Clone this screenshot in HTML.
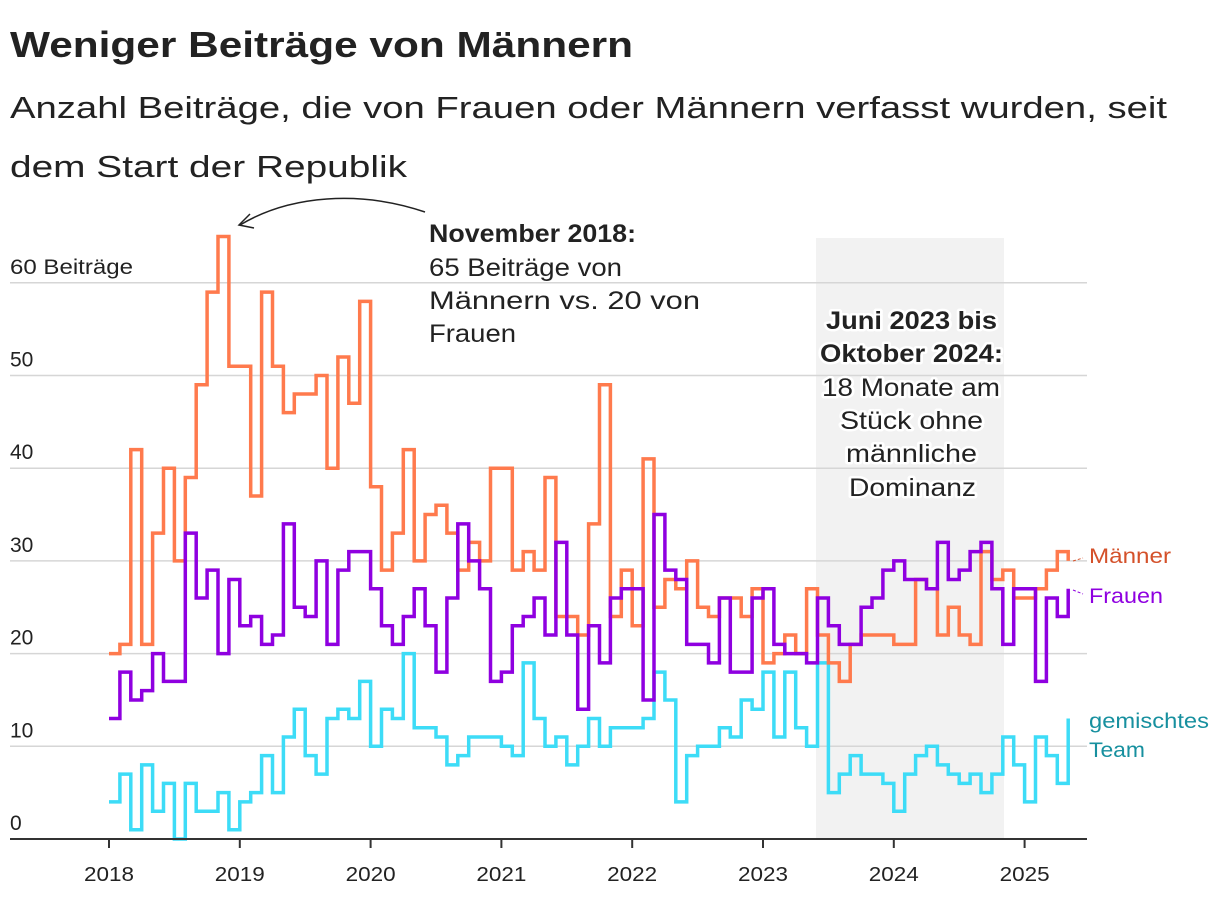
<!DOCTYPE html>
<html><head><meta charset="utf-8">
<style>
html,body{margin:0;padding:0;background:#fff;}
body{width:1220px;height:898px;overflow:hidden;font-family:"Liberation Sans",sans-serif;color:#222;}
svg text{font-family:"Liberation Sans",sans-serif;}
</style></head>
<body>
<svg width="1220" height="898" viewBox="0 0 1220 898">
<text x="10" y="57" font-size="36" font-weight="bold" fill="#222" textLength="623" lengthAdjust="spacingAndGlyphs">Weniger Beiträge von Männern</text>
<text x="10" y="118" font-size="31" fill="#222" textLength="1157" lengthAdjust="spacingAndGlyphs">Anzahl Beiträge, die von Frauen oder Männern verfasst wurden, seit</text>
<text x="10" y="177" font-size="31" fill="#222" textLength="397" lengthAdjust="spacingAndGlyphs">dem Start der Republik</text>
<rect x="816" y="238" width="188" height="601" fill="#f2f2f2"/>
<g id="grid"></g>
<g id="series"></g>
<g id="xaxis"></g>
<path d="M425,212 C360,190 290,195 240,225" fill="none" stroke="#222" stroke-width="1.5"/>
<path d="M250,214 L239,225 L254,228" fill="none" stroke="#222" stroke-width="1.5"/>
<g font-size="25" fill="#222">
<text x="429" y="242" font-weight="bold" textLength="207" lengthAdjust="spacingAndGlyphs">November 2018:</text>
<text x="429" y="276" textLength="193" lengthAdjust="spacingAndGlyphs">65 Beiträge von</text>
<text x="429" y="309" textLength="271" lengthAdjust="spacingAndGlyphs">Männern vs. 20 von</text>
<text x="429" y="342" textLength="87" lengthAdjust="spacingAndGlyphs">Frauen</text>
</g>
<g font-size="25" fill="#222" stroke="#fff" stroke-width="5" paint-order="stroke" stroke-linejoin="round">
<text x="826" y="329" font-weight="bold" textLength="171" lengthAdjust="spacingAndGlyphs">Juni 2023 bis</text>
<text x="820" y="362" font-weight="bold" textLength="183" lengthAdjust="spacingAndGlyphs">Oktober 2024:</text>
<text x="822" y="396" textLength="178" lengthAdjust="spacingAndGlyphs">18 Monate am</text>
<text x="840" y="429" textLength="143" lengthAdjust="spacingAndGlyphs">Stück ohne</text>
<text x="846" y="462" textLength="131" lengthAdjust="spacingAndGlyphs">männliche</text>
<text x="849" y="496" textLength="127" lengthAdjust="spacingAndGlyphs">Dominanz</text>
</g>
<g font-size="21">
<text x="1089" y="563" fill="#d4512a" textLength="82" lengthAdjust="spacingAndGlyphs">Männer</text>
<text x="1089" y="603" fill="#8f00e0" textLength="74" lengthAdjust="spacingAndGlyphs">Frauen</text>
<text x="1089" y="728" fill="#17909f" textLength="120" lengthAdjust="spacingAndGlyphs">gemischtes</text>
<text x="1089" y="757" fill="#17909f" textLength="56" lengthAdjust="spacingAndGlyphs">Team</text>
</g>
<line x1="1073" y1="561" x2="1083" y2="558" stroke="#d4512a" stroke-width="1" stroke-dasharray="3,2"/>
<line x1="1073" y1="590" x2="1083" y2="594" stroke="#8f00e0" stroke-width="1" stroke-dasharray="3,2"/>
</svg>
<script>
const yTicks=[0,10,20,30,40,50,60];
const years=[2018,2019,2020,2021,2022,2023,2024,2025];
const maenner=[20,21,42,21,33,40,30,39,49,59,65,51,
51,37,59,51,46,48,48,50,40,52,47,58,
38,29,33,42,30,35,36,33,29,32,30,40,
40,29,31,29,39,24,24,22,34,49,24,29,
23,41,25,28,27,30,25,24,26,26,24,27,
19,20,22,20,27,22,19,17,21,22,22,22,
21,21,28,27,22,25,22,21,31,28,29,26,
26,27,29,31,30];
const frauen=[13,18,15,16,20,17,17,33,26,29,20,28,
23,24,21,22,34,25,24,30,21,29,31,31,
27,23,21,24,27,23,18,26,34,30,27,17,
18,23,24,26,22,32,22,14,23,19,26,27,
27,15,35,29,28,21,21,19,26,18,18,26,
27,21,20,20,19,26,23,21,21,25,26,29,
30,28,28,27,32,28,29,31,32,27,21,27,
27,17,26,24,27];
const team=[4,7,1,8,3,6,0,6,3,3,5,1,
4,5,9,5,11,14,9,7,13,14,13,17,
10,14,13,20,12,12,11,8,9,11,11,11,
10,9,19,13,10,11,8,10,13,10,12,12,
12,13,18,15,4,9,10,10,12,11,15,14,
18,11,18,12,10,19,5,7,9,7,7,6,
3,7,9,10,8,7,6,7,5,7,11,8,
4,11,9,6,13];
const NS='http://www.w3.org/2000/svg';
const x0=109,yearW=130.8;
function xs(m){return x0+m*yearW/12;}
function ys(v){return 839-v*9.27;}
const grid=document.getElementById('grid');
yTicks.forEach(function(t){
  if(t>0){
  const l=document.createElementNS(NS,'line');
  l.setAttribute('x1',10);l.setAttribute('x2',1087);
  l.setAttribute('y1',ys(t));l.setAttribute('y2',ys(t));
  l.setAttribute('stroke','#d6d6d6');l.setAttribute('stroke-width','1.5');
  
  
  grid.appendChild(l);}
  const tx=document.createElementNS(NS,'text');
  tx.setAttribute('x',10);tx.setAttribute('y',ys(t)-9);
  tx.setAttribute('font-size','21');tx.setAttribute('fill','#222');
  tx.textContent=t===60?'60 Beiträge':String(t);
  if(t===60){tx.setAttribute('textLength','123');tx.setAttribute('lengthAdjust','spacingAndGlyphs');}
  
  
  grid.appendChild(tx);
});
const xa=document.getElementById('xaxis');
const base=document.createElementNS(NS,'line');
base.setAttribute('x1',10);base.setAttribute('x2',1087);base.setAttribute('y1',839);base.setAttribute('y2',839);
base.setAttribute('stroke','#333');base.setAttribute('stroke-width','2');


xa.appendChild(base);
years.forEach(function(y,i){
  const x=xs(i*12);
  const t=document.createElementNS(NS,'line');
  t.setAttribute('x1',x);t.setAttribute('x2',x);t.setAttribute('y1',839);t.setAttribute('y2',848);
  t.setAttribute('stroke','#333');t.setAttribute('stroke-width','2');
  
  
  xa.appendChild(t);
  const tx=document.createElementNS(NS,'text');
  tx.setAttribute('x',x-25);tx.setAttribute('y',881);
  tx.setAttribute('font-size','20');tx.setAttribute('fill','#222');
  tx.setAttribute('textLength','50');tx.setAttribute('lengthAdjust','spacingAndGlyphs');
  tx.textContent=String(y);
  
  
  xa.appendChild(tx);
});
function stepPath(arr){
  let d='M'+xs(0)+','+ys(arr[0]);
  for(let i=1;i<arr.length;i++){d+='H'+xs(i)+'V'+ys(arr[i]);}
  return d;
}
const sg=document.getElementById('series');
[[team,'#3ddcf7','line-gemischtes-team'],[maenner,'#ff7a4d','line-maenner'],[frauen,'#8f00e0','line-frauen']].forEach(function(s){
  const p=document.createElementNS(NS,'path');
  p.setAttribute('d',stepPath(s[0]));
  p.setAttribute('fill','none');p.setAttribute('stroke',s[1]);p.setAttribute('stroke-width','3.5');
  p.setAttribute('stroke-linejoin','miter');
  
  
  sg.appendChild(p);
});
</script>
</body></html>
